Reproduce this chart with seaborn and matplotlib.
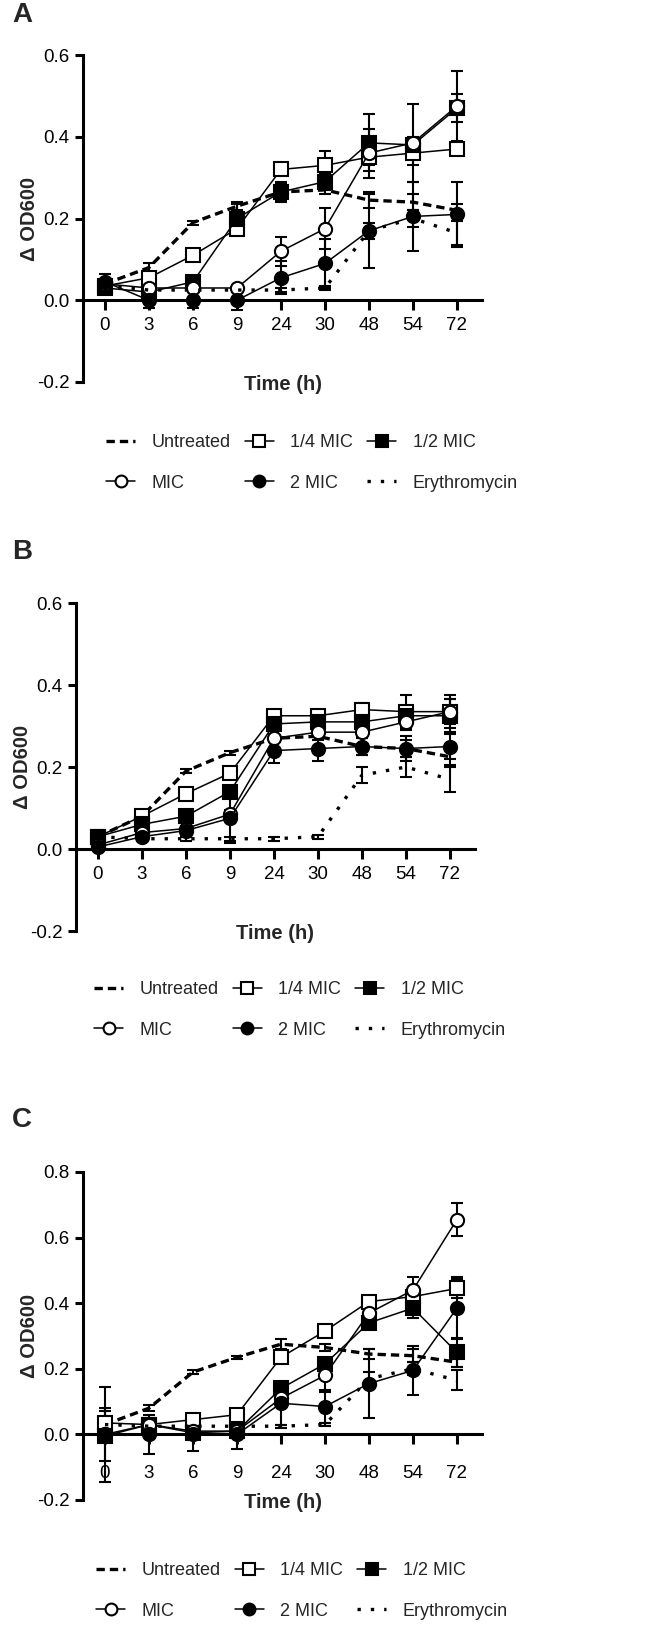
import numpy as np
import matplotlib
matplotlib.use("Agg")
import matplotlib.pyplot as plt
import seaborn as sns
from matplotlib.lines import Line2D

sns.set_style("white")
plt.rcParams['font.family'] = ['Liberation Sans', 'DejaVu Sans']

times = ["0", "3", "6", "9", "24", "30", "48", "54", "72"]
names = ["Untreated", "1/4 MIC", "1/2 MIC", "MIC", "2 MIC", "Erythromycin"]

# panel A
a_untreated = [0.04, 0.08, 0.19, 0.23, 0.265, 0.27, 0.245, 0.24, 0.22]
a_untreated_sd = [0.01, 0.01, 0.005, 0.01, 0.02, 0.01, 0.02, 0.02, 0.015]
a_quarter = [0.035, 0.055, 0.11, 0.175, 0.32, 0.33, 0.35, 0.36, 0.37]
a_quarter_sd = [0.01, 0.01, 0.005, 0.005, 0.005, 0.035, 0.02, 0.03, 0.01]
a_half = [0.03, 0.02, 0.045, 0.2, 0.265, 0.29, 0.385, 0.38, 0.47]
a_half_sd = [0.01, 0.01, 0.005, 0.035, 0.025, 0.02, 0.07, 0.02, 0.035]
a_mic = [0.04, 0.03, 0.03, 0.03, 0.12, 0.175, 0.36, 0.385, 0.475]
a_mic_sd = [0.01, 0.01, 0.005, 0.005, 0.035, 0.05, 0.06, 0.095, 0.085]
a_two = [0.045, 0.0, 0.0, 0.0, 0.055, 0.09, 0.17, 0.205, 0.21]
a_two_sd = [0.02, 0.02, 0.02, 0.025, 0.04, 0.06, 0.09, 0.085, 0.08]
a_ery = [0.035, 0.025, 0.025, 0.025, 0.025, 0.03, 0.17, 0.2, 0.165]
a_ery_sd = [0.005, 0.005, 0.005, 0.005, 0.005, 0.005, 0.02, 0.02, 0.03]

# panel B
b_untreated = [0.03, 0.08, 0.19, 0.235, 0.27, 0.275, 0.25, 0.245, 0.225]
b_untreated_sd = [0.005, 0.005, 0.005, 0.005, 0.005, 0.01, 0.02, 0.02, 0.02]
b_quarter = [0.03, 0.08, 0.135, 0.185, 0.325, 0.325, 0.34, 0.335, 0.335]
b_quarter_sd = [0.005, 0.005, 0.005, 0.005, 0.005, 0.01, 0.015, 0.04, 0.04]
b_half = [0.03, 0.06, 0.08, 0.14, 0.305, 0.31, 0.31, 0.325, 0.325]
b_half_sd = [0.01, 0.005, 0.005, 0.005, 0.01, 0.01, 0.02, 0.025, 0.04]
b_mic = [0.01, 0.04, 0.05, 0.085, 0.27, 0.285, 0.285, 0.31, 0.335]
b_mic_sd = [0.005, 0.005, 0.005, 0.01, 0.01, 0.01, 0.01, 0.02, 0.03]
b_two = [0.005, 0.03, 0.045, 0.075, 0.24, 0.245, 0.25, 0.245, 0.25]
b_two_sd = [0.005, 0.005, 0.005, 0.06, 0.03, 0.03, 0.02, 0.03, 0.03]
b_ery = [0.03, 0.025, 0.025, 0.025, 0.025, 0.03, 0.18, 0.2, 0.17]
b_ery_sd = [0.005, 0.005, 0.005, 0.005, 0.005, 0.005, 0.02, 0.025, 0.03]

# panel C
c_untreated = [0.03, 0.08, 0.19, 0.235, 0.275, 0.265, 0.245, 0.24, 0.22]
c_untreated_sd = [0.01, 0.01, 0.005, 0.005, 0.015, 0.01, 0.015, 0.02, 0.015]
c_quarter = [0.035, 0.03, 0.045, 0.06, 0.235, 0.315, 0.405, 0.42, 0.445]
c_quarter_sd = [0.045, 0.01, 0.01, 0.005, 0.01, 0.01, 0.01, 0.02, 0.03]
c_half = [-0.005, 0.03, 0.005, 0.01, 0.14, 0.215, 0.34, 0.385, 0.25]
c_half_sd = [0.075, 0.01, 0.01, 0.01, 0.02, 0.01, 0.02, 0.03, 0.045]
c_mic = [0.0, 0.03, 0.01, 0.01, 0.11, 0.18, 0.37, 0.44, 0.655]
c_mic_sd = [0.145, 0.01, 0.01, 0.01, 0.02, 0.05, 0.02, 0.04, 0.05]
c_two = [0.0, 0.0, 0.0, 0.0, 0.095, 0.085, 0.155, 0.195, 0.385]
c_two_sd = [0.01, 0.06, 0.05, 0.045, 0.065, 0.05, 0.105, 0.075, 0.095]
c_ery = [0.03, 0.025, 0.025, 0.025, 0.025, 0.03, 0.17, 0.2, 0.165]
c_ery_sd = [0.005, 0.005, 0.005, 0.005, 0.005, 0.005, 0.02, 0.02, 0.03]

# line look per series
styles = {
    "Untreated": dict(linestyle=(0, (2.5, 1.5)), linewidth=2.4, marker=None),
    "1/4 MIC": dict(linestyle="-", linewidth=1.1, marker="s", markerfacecolor="white"),
    "1/2 MIC": dict(linestyle="-", linewidth=1.1, marker="s", markerfacecolor="black"),
    "MIC": dict(linestyle="-", linewidth=1.1, marker="o", markerfacecolor="white"),
    "2 MIC": dict(linestyle="-", linewidth=1.1, marker="o", markerfacecolor="black"),
    "Erythromycin": dict(linestyle=(0, (1, 3)), linewidth=2.4, marker=None),
}

panels = [
    ("A", [a_untreated, a_quarter, a_half, a_mic, a_two, a_ery],
     [a_untreated_sd, a_quarter_sd, a_half_sd, a_mic_sd, a_two_sd, a_ery_sd],
     [83, 55, 382], 0.6, 15, 463, 312, 5),
    ("B", [b_untreated, b_quarter, b_half, b_mic, b_two, b_ery],
     [b_untreated_sd, b_quarter_sd, b_half_sd, b_mic_sd, b_two_sd, b_ery_sd],
     [76, 603, 931], 0.6, 552, 1010, 300, 5),
    ("C", [c_untreated, c_quarter, c_half, c_mic, c_two, c_ery],
     [c_untreated_sd, c_quarter_sd, c_half_sd, c_mic_sd, c_two_sd, c_ery_sd],
     [83, 1172, 1500], 0.8, 1120, 1591, 302, 15),
]

W, H = 648, 1634
fig = plt.figure(figsize=(W / 100, H / 100), dpi=100)
x = np.arange(len(times))

for letter, means, sds, box, ytop, lab_y, leg_y, leg_x, xpad in panels:
    left, top, bottom = box
    ax = fig.add_axes([left / W, 1 - bottom / H, 399 / W, (bottom - top) / H])
    for name, m, s in zip(names, means, sds):
        st = styles[name]
        ax.errorbar(x, m, yerr=s, fmt="none", ecolor="black", elinewidth=1.5,
                    capsize=4.5, capthick=1.5, zorder=2, clip_on=False)
        sns.lineplot(x=x, y=m, ax=ax, color="black", errorbar=None,
                     linestyle=st["linestyle"], linewidth=st["linewidth"],
                     marker=st["marker"], markersize=9.5,
                     markerfacecolor=st.get("markerfacecolor", "black"),
                     markeredgecolor="black", markeredgewidth=1.5,
                     zorder=3, clip_on=False, legend=False)

    ax.set_xlim(-0.5, 8.57)
    ax.set_ylim(-0.2, ytop)
    ax.set_yticks(np.round(np.arange(-0.2, ytop + 0.01, 0.2), 1))
    ax.yaxis.set_major_formatter(matplotlib.ticker.FormatStrFormatter("%.1f"))
    ax.set_xticks(x)
    ax.set_xticklabels(times)
    for sp in ["top", "right"]:
        ax.spines[sp].set_visible(False)
    ax.spines["bottom"].set_position(("data", 0))
    for sp in ["left", "bottom"]:
        ax.spines[sp].set_linewidth(2.2)
        ax.spines[sp].set_color("black")
    ax.tick_params(axis="both", direction="out", length=6, width=2.2,
                   labelsize=13.5, colors="black", left=True, bottom=True)
    ax.tick_params(axis="x", pad=xpad, length=7)
    ax.set_facecolor("none")

    ax.set_ylabel("Δ OD600", fontsize=14.5, fontweight="bold")
    ax.yaxis.set_label_coords(-0.11, 0.5)
    ax.set_xlabel("Time (h)", fontsize=14.5, fontweight="bold")
    ax.xaxis.set_label_coords(0.5, 0.02)

    fig.text(12 / W, 1 - lab_y / H, letter, fontsize=20, fontweight="bold",
             va="center", ha="left")

    handles = []
    for name in names:
        st = styles[name]
        handles.append(Line2D([], [], color="black", linestyle=st["linestyle"],
                              linewidth=st["linewidth"], marker=st["marker"],
                              markersize=8.5,
                              markerfacecolor=st.get("markerfacecolor", "black"),
                              markeredgecolor="black", markeredgewidth=1.5))
    order = [0, 3, 1, 4, 2, 5]
    fig.legend([handles[i] for i in order], [names[i] for i in order],
               loc="center", bbox_to_anchor=(leg_x / W, 1 - leg_y / H),
               ncol=3, frameon=False, fontsize=13, handlelength=1.6,
               handletextpad=0.9, columnspacing=0.8, labelspacing=1.3)

fig.savefig("out.png", dpi=100, facecolor="white")
